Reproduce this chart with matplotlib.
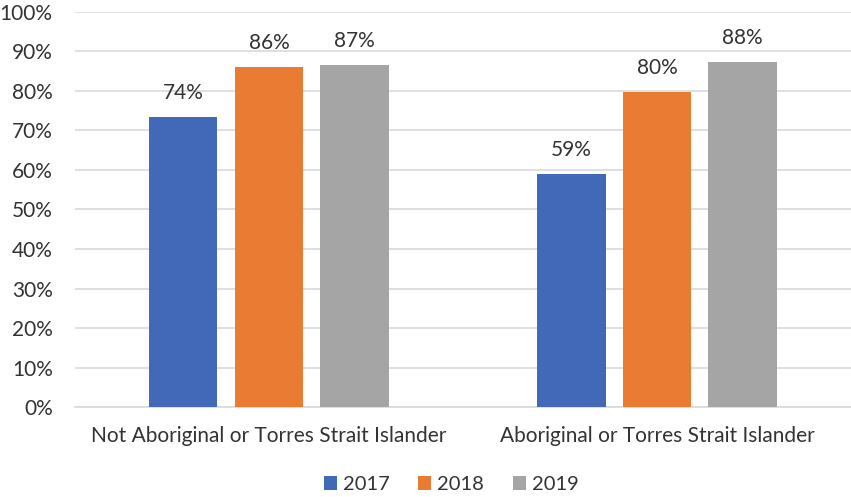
import numpy as np
import matplotlib.pyplot as plt

plt.rcParams['font.family'] = ['Lato', 'DejaVu Sans']

categories = ["Not Aboriginal or Torres Strait Islander", "Aboriginal or Torres Strait Islander"]
years = ["2017", "2018", "2019"]
values = {
    "2017": [73.5, 59.0],
    "2018": [86.1, 79.7],
    "2019": [86.6, 87.3],
}
labels = {
    "2017": ["74%", "59%"],
    "2018": ["86%", "80%"],
    "2019": ["87%", "88%"],
}
colors = ["#4169B8", "#EA7B33", "#A5A5A5"]

fig = plt.figure(figsize=(8.51, 4.97), dpi=100)
ax = fig.add_axes([0.088, 0.181, 0.912, 0.795])

x = np.arange(len(categories))
width = 0.177
step = 0.221
for i, yr in enumerate(years):
    pos = x + (i - 1) * step
    bars = ax.bar(pos, values[yr], width, color=colors[i], label=yr, zorder=3)
    for b, lab in zip(bars, labels[yr]):
        ax.text(b.get_x() + b.get_width() / 2, b.get_height() + 3.5, lab,
                ha='center', va='bottom', fontsize=15, color='#333333')

ax.set_xlim(-0.5, 1.5)
ax.set_ylim(0, 100)
ax.set_yticks(np.arange(0, 101, 10))
ax.set_yticklabels([f"{v}%" for v in range(0, 101, 10)])
ax.set_xticks(x)
ax.set_xticklabels(categories)
ax.tick_params(axis='both', length=0, labelsize=15, labelcolor='#333333')
ax.tick_params(axis='x', pad=14)
ax.tick_params(axis='y', pad=16)
ax.grid(axis='y', color='#D9D9D9', linewidth=1.2, zorder=0)
for s in ['top', 'right', 'left']:
    ax.spines[s].set_visible(False)
ax.spines['bottom'].set_color('#D9D9D9')
ax.spines['bottom'].set_linewidth(1.2)

ax.legend(loc='center', bbox_to_anchor=(0.485, -0.197), ncol=3, frameon=False,
          fontsize=14.5, handlelength=0.65, handleheight=0.7, columnspacing=1.4,
          handletextpad=0.3, labelcolor='#333333')

fig.savefig("out.png", dpi=100)
